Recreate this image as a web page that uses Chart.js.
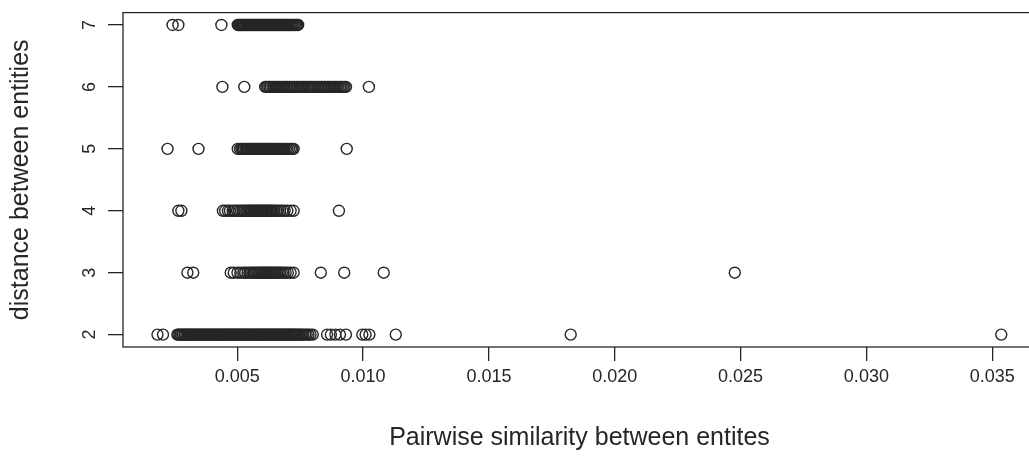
<!DOCTYPE html>
<html><head><meta charset="utf-8">
<script src="https://cdn.jsdelivr.net/npm/chart.js@4/dist/chart.umd.min.js"></script>
<style>html,body{margin:0;padding:0;background:#fff;overflow:hidden;width:1029px;height:464px}canvas{display:block}</style>
</head><body><canvas id="c" width="1045" height="464"></canvas>
<script>
// distance (y) categories and pairwise similarity values (x)
const distances = [2, 3, 4, 5, 6, 7];
const xTicks = [0.005, 0.010, 0.015, 0.020, 0.025, 0.030, 0.035];
const xTickLabels = ["0.005", "0.010", "0.015", "0.020", "0.025", "0.030", "0.035"];
const yTickLabels = ["2", "3", "4", "5", "6", "7"];
const xTitle = "Pairwise similarity between entites";
const yTitle = "distance between entities";

const simDist2 = [0.00183, 0.00205,
  0.00262, 0.00266, 0.00271, 0.00275, 0.00281, 0.00284, 0.00290, 0.00293, 0.00298, 0.00303, 0.00307, 0.00312, 0.00316, 0.00320, 0.00326, 0.00329,
  0.00334, 0.00339, 0.00342, 0.00348, 0.00352, 0.00357, 0.00361, 0.00366, 0.00370, 0.00374, 0.00379, 0.00384, 0.00388, 0.00392, 0.00397, 0.00402,
  0.00405, 0.00411, 0.00415, 0.00419, 0.00424, 0.00428, 0.00433, 0.00437, 0.00442, 0.00446, 0.00451, 0.00455, 0.00459, 0.00464, 0.00469, 0.00472,
  0.00478, 0.00482, 0.00486, 0.00491, 0.00495, 0.00500, 0.00504, 0.00508, 0.00513, 0.00518, 0.00521, 0.00527, 0.00531, 0.00535, 0.00540, 0.00544,
  0.00549, 0.00553, 0.00557, 0.00562, 0.00567, 0.00570, 0.00576, 0.00580, 0.00584, 0.00589, 0.00593, 0.00598, 0.00602, 0.00606, 0.00611, 0.00616,
  0.00619, 0.00625, 0.00629, 0.00633, 0.00638, 0.00642, 0.00647, 0.00651, 0.00655, 0.00660, 0.00665, 0.00668, 0.00674, 0.00678, 0.00682, 0.00687,
  0.00691, 0.00696, 0.00700, 0.00704, 0.00709, 0.00714, 0.00717, 0.00723, 0.00727, 0.00731, 0.00736, 0.00741, 0.00746, 0.00752, 0.00757, 0.00763,
  0.00770, 0.00776, 0.00783, 0.00791, 0.00800,
  0.00857, 0.00872, 0.00890, 0.00908, 0.00932, 0.00997, 0.01010, 0.01025, 0.01130, 0.01825, 0.03536];
const simDist3 = [0.00302, 0.00325,
  0.00474, 0.00486, 0.00501, 0.00512, 0.00524, 0.00532, 0.00541, 0.00549, 0.00556, 0.00563, 0.00569, 0.00575, 0.00581, 0.00587, 0.00592, 0.00598,
  0.00603, 0.00608, 0.00614, 0.00619, 0.00625, 0.00630, 0.00636, 0.00641, 0.00647, 0.00653, 0.00658, 0.00664, 0.00670, 0.00677, 0.00684, 0.00692,
  0.00701, 0.00712, 0.00724,
  0.00832, 0.00925, 0.01082, 0.02477];
const simDist4 = [0.00266, 0.00278,
  0.00443, 0.00452, 0.00463, 0.00471, 0.00482, 0.00490, 0.00499, 0.00507, 0.00515, 0.00522, 0.00529, 0.00536, 0.00542, 0.00548, 0.00554, 0.00559,
  0.00565, 0.00570, 0.00575, 0.00580, 0.00585, 0.00590, 0.00595, 0.00600, 0.00605, 0.00610, 0.00615, 0.00620, 0.00625, 0.00631, 0.00636, 0.00642,
  0.00648, 0.00655, 0.00662, 0.00670, 0.00679, 0.00688, 0.00699, 0.00712, 0.00724,
  0.00904];
const simDist5 = [0.00223, 0.00346,
  0.00502, 0.00511, 0.00517, 0.00522, 0.00527, 0.00533, 0.00538, 0.00542, 0.00547, 0.00552, 0.00557, 0.00561, 0.00566, 0.00571, 0.00577, 0.00581,
  0.00586, 0.00590, 0.00596, 0.00601, 0.00605, 0.00611, 0.00615, 0.00620, 0.00626, 0.00630, 0.00635, 0.00641, 0.00645, 0.00650, 0.00656, 0.00660,
  0.00666, 0.00671, 0.00676, 0.00682, 0.00687, 0.00693, 0.00699, 0.00706, 0.00713, 0.00719, 0.00724,
  0.00935];
const simDist6 = [0.00441, 0.00528,
  0.00611, 0.00616, 0.00622, 0.00628, 0.00633, 0.00640, 0.00645, 0.00651, 0.00658, 0.00663, 0.00669, 0.00676, 0.00681, 0.00687, 0.00694, 0.00699,
  0.00706, 0.00711, 0.00717, 0.00724, 0.00729, 0.00736, 0.00742, 0.00748, 0.00755, 0.00760, 0.00766, 0.00773, 0.00779, 0.00785, 0.00791, 0.00797,
  0.00803, 0.00809, 0.00816, 0.00821, 0.00828, 0.00834, 0.00840, 0.00846, 0.00852, 0.00859, 0.00865, 0.00871, 0.00877, 0.00883, 0.00890, 0.00896,
  0.00902, 0.00908, 0.00914, 0.00920, 0.00926, 0.00932,
  0.01023];
const simDist7 = [0.00243, 0.00266, 0.00437,
  0.00502, 0.00505, 0.00508, 0.00512, 0.00515, 0.00518, 0.00522, 0.00526, 0.00529, 0.00533, 0.00537, 0.00541, 0.00544, 0.00548, 0.00552, 0.00555,
  0.00559, 0.00563, 0.00567, 0.00570, 0.00574, 0.00578, 0.00581, 0.00585, 0.00589, 0.00593, 0.00596, 0.00600, 0.00604, 0.00607, 0.00611, 0.00615,
  0.00619, 0.00622, 0.00626, 0.00630, 0.00633, 0.00637, 0.00641, 0.00645, 0.00648, 0.00652, 0.00656, 0.00659, 0.00663, 0.00667, 0.00671, 0.00674,
  0.00678, 0.00682, 0.00685, 0.00689, 0.00693, 0.00697, 0.00700, 0.00704, 0.00708, 0.00712, 0.00716, 0.00720, 0.00724, 0.00729, 0.00733, 0.00738,
  0.00742];

const rows = [simDist2, simDist3, simDist4, simDist5, simDist6, simDist7];
const FONT = "'Liberation Sans', Arial, Helvetica, sans-serif";
const INK = '#262626';

const datasets = rows.map((xs, i) => ({
  label: 'd' + distances[i],
  data: xs.map(x => ({x: x, y: distances[i]})),
  pointStyle: 'circle',
  pointRadius: 5.5,
  pointBorderWidth: 1.4,
  pointBorderColor: INK,
  pointBackgroundColor: 'rgba(0,0,0,0)',
  showLine: false
}));

const framePlugin = {
  id: 'frame',
  afterDraw(chart) {
    const {ctx, chartArea: a, scales} = chart;
    ctx.save();
    ctx.strokeStyle = INK;
    ctx.lineWidth = 1.3;
    ctx.strokeRect(a.left, a.top, a.right - a.left, a.bottom - a.top);
    // rotated y tick labels (parallel to axis, as in R)
    ctx.fillStyle = INK;
    ctx.font = '18px ' + FONT;
    ctx.textAlign = 'center';
    ctx.textBaseline = 'middle';
    distances.forEach((d, i) => {
      const py = scales.y.getPixelForValue(d);
      ctx.save();
      ctx.translate(90, py);
      ctx.rotate(-Math.PI / 2);
      ctx.fillText(yTickLabels[i], 0, 0);
      ctx.restore();
    });
    ctx.restore();
  }
};

new Chart(document.getElementById('c'), {
  type: 'scatter',
  data: {datasets},
  options: {
    responsive: false,
    animation: false,
    layout: {padding: {top: 12.6, right: 9, left: 0, bottom: 0}},
    plugins: {legend: {display: false}, tooltip: {enabled: false}},
    scales: {
      x: {
        type: 'linear',
        min: 0.00046, max: 0.03674,
        afterBuildTicks: s => { s.ticks = xTicks.map(v => ({value: v})); },
        afterFit: s => { s.height = 117; },
        border: {display: false},
        grid: {drawOnChartArea: false, drawTicks: true, tickLength: 14, color: INK, lineWidth: 1.3},
        ticks: {
          color: INK, font: {family: FONT, size: 18}, padding: 5, maxRotation: 0, autoSkip: false,
          callback: (v, i) => xTickLabels[i]
        },
        title: {display: true, text: xTitle, color: INK, font: {family: FONT, size: 25}, padding: {top: 0, bottom: 11}}
      },
      y: {
        type: 'linear',
        min: 1.8, max: 7.2,
        afterBuildTicks: s => { s.ticks = distances.map(v => ({value: v})); },
        afterFit: s => { s.width = 123; },
        border: {display: false},
        grid: {drawOnChartArea: false, drawTicks: true, tickLength: 15, color: INK, lineWidth: 1.3},
        ticks: {display: false},
        title: {display: true, text: yTitle, color: INK, font: {family: FONT, size: 25}, padding: {top: 6, bottom: 0}}
      }
    }
  },
  plugins: [framePlugin]
});
</script>
</body></html>
